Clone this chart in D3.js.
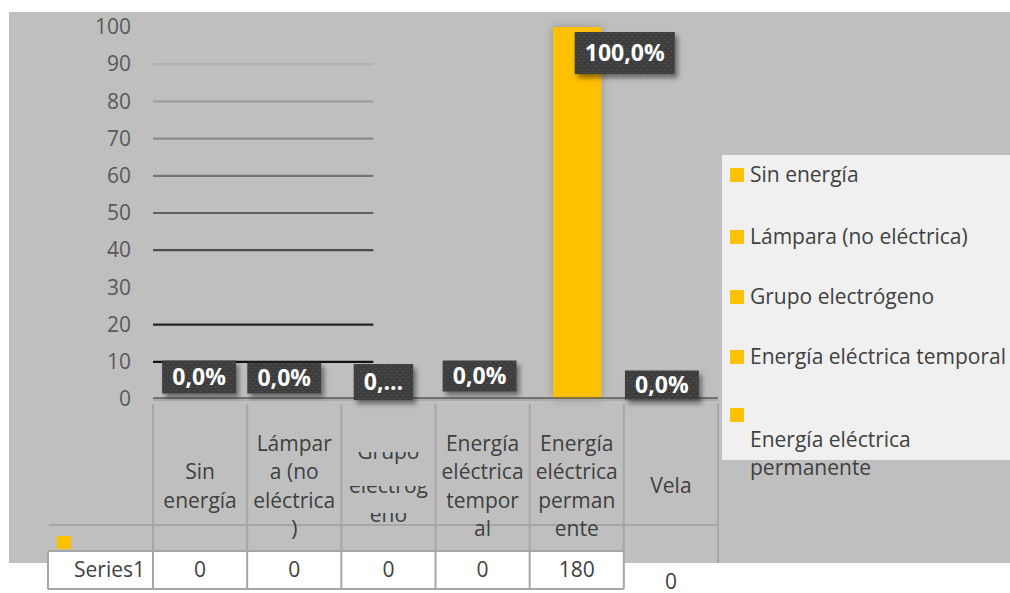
<!DOCTYPE html>
<html>
<head>
<meta charset="utf-8">
<script src="https://cdn.jsdelivr.net/npm/d3@7"></script>
<style>
  body { margin: 0; background: #ffffff; }
  svg { display: block; font-family: "Open Sans", sans-serif; }
</style>
</head>
<body>
<div id="chart"></div>
<script>
// Chart data
const categories = ["Sin energía", "Lámpara (no eléctrica)", "Grupo electrógeno",
  "Energía eléctrica temporal", "Energía eléctrica permanente", "Vela"];
const categoryLines = [
  ["Sin", "energía"],
  ["Lámpar", "a (no", "eléctrica", ")"],
  ["Grupo", "electróg", "eno"],
  ["Energía", "eléctrica", "tempor", "al"],
  ["Energía", "eléctrica", "perman", "ente"],
  ["Vela"]
];
const percentValues = [0, 0, 0, 0, 100, 0];
const countValues = [0, 0, 0, 0, 180, 0];
const labelTexts = ["0,0%", "0,0%", "0,…", "0,0%", "100,0%", "0,0%"];
const legendItems = ["Sin energía", "Lámpara (no eléctrica)", "Grupo electrógeno",
  "Energía eléctrica temporal", "Energía eléctrica permanente"];
const seriesName = "Series1";
const yTicks = [0, 10, 20, 30, 40, 50, 60, 70, 80, 90, 100];
const gridValues = [10, 20, 40, 50, 60, 70, 80, 90];

// hand-placed data label nudges (dx, dy from bar top) and box heights
const labelLayout = [
  { dx: -1, dy: -22, h: 33 },
  { dx: -10, dy: -21, h: 31 },
  { dx: -5, dy: -17, h: 36 },
  { dx: -3, dy: -23, h: 31 },
  { dx: 48, dy: 26, h: 42 },
  { dx: -9, dy: -14, h: 29 }
];

const width = 1010, height = 593;
const yellow = "#ffc000";
const textColor = "#404040";
const fontSize = "21px";

const svg = d3.select("#chart").append("svg")
  .attr("width", width)
  .attr("height", height);

const defs = svg.append("defs");
const dots = defs.append("pattern")
  .attr("id", "dots")
  .attr("width", 6).attr("height", 6)
  .attr("patternUnits", "userSpaceOnUse");
dots.append("rect").attr("width", 6).attr("height", 6).attr("fill", "#3d3d3d");
dots.append("circle").attr("cx", 1.5).attr("cy", 1.5).attr("r", 0.8).attr("fill", "#565656");
dots.append("circle").attr("cx", 4.5).attr("cy", 4.5).attr("r", 0.8).attr("fill", "#565656");

const shadow = defs.append("filter").attr("id", "shadow")
  .attr("x", "-30%").attr("y", "-30%").attr("width", "170%").attr("height", "180%");
shadow.append("feDropShadow")
  .attr("dx", 3).attr("dy", 4).attr("stdDeviation", 2.5)
  .attr("flood-color", "#000").attr("flood-opacity", 0.45);

const barShadow = defs.append("filter").attr("id", "barShadow")
  .attr("x", "-60%").attr("y", "-5%").attr("width", "220%").attr("height", "110%");
barShadow.append("feDropShadow")
  .attr("dx", 0).attr("dy", 0).attr("stdDeviation", 5)
  .attr("flood-color", "#000").attr("flood-opacity", 0.25);

// chart area background
svg.append("rect")
  .attr("x", 9).attr("y", 12)
  .attr("width", width - 9).attr("height", 551)
  .attr("fill", "#bfbfbf");

// Scales
const x = d3.scaleBand()
  .domain(categories)
  .range([153, 718])
  .padding(0);

const y = d3.scaleLinear()
  .domain([0, 100])
  .range([399, 27]);

const gridColor = d3.scaleLinear()
  .domain([10, 90])
  .range(["#111111", "#b2b2b2"]);

// partial gridlines
svg.append("g")
  .selectAll("line")
  .data(gridValues)
  .enter().append("line")
  .attr("x1", x(categories[0]))
  .attr("x2", x(categories[2]) + x.bandwidth() * 0.34)
  .attr("y1", d => y(d))
  .attr("y2", d => y(d))
  .attr("stroke", d => gridColor(d))
  .attr("stroke-width", 2.2);

// y axis
const yAxis = svg.append("g")
  .attr("transform", "translate(153,0)")
  .call(d3.axisLeft(y).tickValues(yTicks).tickSize(0).tickPadding(22));
yAxis.select(".domain").remove();
yAxis.selectAll("text")
  .attr("fill", "#595959")
  .style("font-size", fontSize)
  .style("font-family", "Open Sans, sans-serif");

// bar
svg.append("g")
  .selectAll("rect")
  .data(percentValues.map((v, i) => ({ cat: categories[i], v })))
  .enter().append("rect")
  .filter(d => d.v > 0)
  .attr("x", d => x(d.cat) + x.bandwidth() * 0.25)
  .attr("y", d => y(d.v))
  .attr("width", x.bandwidth() * 0.51)
  .attr("height", d => y(0) - y(d.v))
  .attr("fill", yellow)
  .attr("filter", "url(#barShadow)");

// baseline
svg.append("line")
  .attr("x1", 153).attr("x2", 718)
  .attr("y1", y(0) - 1).attr("y2", y(0) - 1)
  .attr("stroke", "#595959").attr("stroke-width", 1.5);

// data table
const table = svg.append("g");
const lineColor = "#a6a6a6";
const rowTop = y(0) + 1, rowMid = 525, rowSeries = 551, rowBottom = 589;

table.append("rect")
  .attr("x", 48).attr("y", rowSeries)
  .attr("width", x(categories[5]) - 48).attr("height", rowBottom - rowSeries)
  .attr("fill", "#ffffff");

table.append("line")
  .attr("x1", 153).attr("x2", 718).attr("y1", rowTop).attr("y2", rowTop)
  .attr("stroke", lineColor).attr("stroke-width", 1.5);
table.append("line")
  .attr("x1", 49).attr("x2", 718).attr("y1", rowMid).attr("y2", rowMid)
  .attr("stroke", lineColor).attr("stroke-width", 2);
table.append("line")
  .attr("x1", 48).attr("x2", x(categories[5])).attr("y1", rowSeries).attr("y2", rowSeries)
  .attr("stroke", lineColor).attr("stroke-width", 2);
table.append("line")
  .attr("x1", 48).attr("x2", x(categories[5])).attr("y1", rowBottom).attr("y2", rowBottom)
  .attr("stroke", lineColor).attr("stroke-width", 2);
table.append("line")
  .attr("x1", 48).attr("x2", 48).attr("y1", rowSeries).attr("y2", rowBottom)
  .attr("stroke", lineColor).attr("stroke-width", 2);

const colEdges = categories.map(c => x(c)).concat([x.range()[1]]);
table.selectAll(".vline")
  .data(colEdges)
  .enter().append("line")
  .attr("class", "vline")
  .attr("x1", d => d).attr("x2", d => d)
  .attr("y1", rowTop + 4)
  .attr("y2", (d, i) => i === colEdges.length - 1 ? 563 : rowBottom)
  .attr("stroke", lineColor).attr("stroke-width", 2);

// category labels in table header
const lineH = 28.5, headerMid = 486;
const grupoClipTop = [452, 486, 513];
categories.forEach((c, i) => {
  const lines = categoryLines[i];
  const cx = x(c) + x.bandwidth() / 2;
  const top = headerMid - (lines.length - 1) * lineH / 2;
  lines.forEach((t, j) => {
    let cy = top + j * lineH;
    if (i === 2 && j === 0) cy -= 6;
    const txt = table.append("text")
      .attr("x", cx)
      .attr("y", cy)
      .attr("dy", "0.35em")
      .attr("text-anchor", "middle")
      .attr("fill", textColor)
      .style("font-size", fontSize)
      .text(t);
    if (i === 2) {
      // Grupo electrógeno label is squeezed: only the lower part of each line shows
      const id = "clip" + j;
      defs.append("clipPath").attr("id", id)
        .append("rect")
        .attr("x", x(c)).attr("y", grupoClipTop[j])
        .attr("width", x.bandwidth()).attr("height", 16);
      txt.attr("clip-path", `url(#${id})`);
    }
  });
});

// legend key + series row
table.append("rect")
  .attr("x", 57).attr("y", 536).attr("width", 14).attr("height", 13)
  .attr("fill", yellow);
table.append("text")
  .attr("x", 145).attr("y", (rowSeries + rowBottom) / 2)
  .attr("dy", "0.35em")
  .attr("text-anchor", "end")
  .attr("fill", textColor)
  .style("font-size", fontSize)
  .text(seriesName);
table.selectAll(".count")
  .data(countValues)
  .enter().append("text")
  .attr("class", "count")
  .attr("x", (d, i) => x(categories[i]) + x.bandwidth() / 2)
  .attr("y", (d, i) => i === 5 ? 582 : (rowSeries + rowBottom) / 2)
  .attr("dy", "0.35em")
  .attr("text-anchor", "middle")
  .attr("fill", textColor)
  .style("font-size", fontSize)
  .text(d => d);

// data labels
const labels = svg.append("g")
  .selectAll("g")
  .data(percentValues.map((v, i) => ({ cat: categories[i], v, text: labelTexts[i], lay: labelLayout[i] })))
  .enter().append("g")
  .attr("transform", d => `translate(${x(d.cat) + x.bandwidth() / 2 + d.lay.dx},${y(d.v) + d.lay.dy})`);

labels.append("rect").attr("class", "box");
labels.append("text")
  .attr("text-anchor", "middle")
  .attr("dy", "0.36em")
  .attr("fill", "#ffffff")
  .style("font-size", "23px")
  .style("font-weight", "bold")
  .text(d => d.text);
labels.each(function(d) {
  const g = d3.select(this);
  const bb = g.select("text").node().getBBox();
  const w = bb.width + 20;
  g.select("rect")
    .attr("x", -w / 2).attr("y", -d.lay.h / 2)
    .attr("width", w).attr("height", d.lay.h)
    .attr("fill", "url(#dots)")
    .attr("filter", "url(#shadow)");
});

// legend
const legend = svg.append("g");
legend.append("rect")
  .attr("x", 722).attr("y", 155)
  .attr("width", width - 722).attr("height", 305)
  .attr("fill", "#f0f0f0");

const legendY = [175, 237, 297, 357, 415];
legendItems.forEach((name, i) => {
  legend.append("rect")
    .attr("x", 730).attr("y", legendY[i] - 7)
    .attr("width", 14).attr("height", 14)
    .attr("fill", yellow);
  if (i < legendItems.length - 1) {
    legend.append("text")
      .attr("x", 750).attr("y", legendY[i])
      .attr("dy", "0.35em")
      .attr("fill", textColor)
      .style("font-size", fontSize)
      .text(name);
  } else {
    // last entry wraps below its key
    const words = ["Energía eléctrica", "permanente"];
    words.forEach((w, j) => {
      legend.append("text")
        .attr("x", 750).attr("y", legendY[i] + 25 + j * 28)
        .attr("dy", "0.35em")
        .attr("fill", textColor)
        .style("font-size", fontSize)
        .text(w);
    });
  }
});
</script>
</body>
</html>
